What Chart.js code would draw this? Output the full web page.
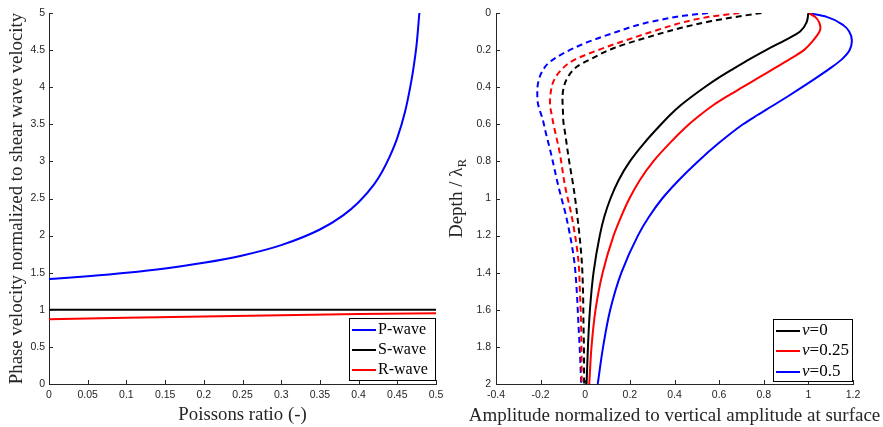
<!DOCTYPE html>
<html>
<head>
<meta charset="utf-8">
<script src="https://cdn.jsdelivr.net/npm/chart.js@4"></script>
<style>
html, body { margin: 0; padding: 0; background: #fff; }
#wrap { position: relative; width: 883px; height: 427px; overflow: hidden; }
canvas { position: absolute; top: 0; }
</style>
</head>
<body>
<div id="wrap">
  <canvas id="velChart" width="449" height="427" style="left:0"></canvas>
  <canvas id="ampChart" width="438" height="427" style="left:445px"></canvas>
</div>
<script>
// Panel gauche : vitesses normalisées en fonction du coefficient de Poisson
const nuP = [0, 0.02, 0.05, 0.1, 0.15, 0.2, 0.25, 0.3, 0.35, 0.38, 0.4, 0.42, 0.43, 0.44, 0.45, 0.46, 0.465, 0.47, 0.475, 0.4785];
const vpRatio = [1.414, 1.429, 1.453, 1.5, 1.558, 1.633, 1.732, 1.871, 2.082, 2.273, 2.449, 2.69, 2.854, 3.06, 3.317, 3.67, 3.91, 4.2, 4.58, 5.0];
const nuS = [0, 0.5];
const vsRatio = [1, 1];
const nuR = [0, 0.1, 0.2, 0.3, 0.4, 0.5];
const vrRatio = [0.874, 0.893, 0.911, 0.927, 0.942, 0.955];
const velLabels = ['P-wave', 'S-wave', 'R-wave'];

// Panel droit : amplitudes (trait plein = vertical, tirets = horizontal)
const depthV0 = [0, 0.05, 0.1, 0.15, 0.2, 0.25, 0.3, 0.35, 0.4, 0.45, 0.5, 0.55, 0.6, 0.7, 0.8, 0.9, 1.0, 1.1, 1.2, 1.4, 1.6, 1.8, 2.0];
const ampV0 = [1.0, 0.992, 0.963, 0.89, 0.81, 0.735, 0.665, 0.597, 0.535, 0.478, 0.425, 0.38, 0.34, 0.265, 0.2, 0.15, 0.113, 0.085, 0.065, 0.037, 0.021, 0.012, 0.006];
const depthV025 = [0, 0.02, 0.05, 0.08, 0.1, 0.15, 0.2, 0.25, 0.3, 0.35, 0.4, 0.45, 0.5, 0.55, 0.6, 0.7, 0.8, 0.9, 1.0, 1.1, 1.2, 1.4, 1.6, 1.8, 2.0];
const ampV025 = [1.0, 1.03, 1.048, 1.054, 1.05, 1.02, 0.98, 0.915, 0.845, 0.775, 0.705, 0.635, 0.57, 0.515, 0.465, 0.38, 0.305, 0.245, 0.198, 0.16, 0.127, 0.078, 0.046, 0.028, 0.018];
const depthV05 = [0, 0.021, 0.066, 0.1, 0.15, 0.2, 0.25, 0.3, 0.35, 0.4, 0.45, 0.5, 0.55, 0.6, 0.7, 0.8, 0.9, 1.0, 1.1, 1.2, 1.4, 1.6, 1.8, 2.0];
const ampV05 = [1.0, 1.082, 1.157, 1.183, 1.195, 1.185, 1.15, 1.095, 1.035, 0.972, 0.907, 0.84, 0.772, 0.707, 0.6, 0.505, 0.42, 0.345, 0.285, 0.236, 0.162, 0.112, 0.08, 0.056];
const depthH0 = [0, 0.02, 0.045, 0.08, 0.12, 0.19, 0.245, 0.29, 0.35, 0.41, 0.47, 0.53, 0.586, 0.65, 0.8, 0.936, 1.1, 1.331, 1.5, 1.666, 1.8, 2.0];
const ampH0 = [0.79, 0.68, 0.56, 0.43, 0.31, 0.126, 0.03, -0.038, -0.08, -0.098, -0.102, -0.1, -0.098, -0.09, -0.072, -0.053, -0.035, -0.016, -0.01, -0.008, -0.006, -0.005];
const depthH025 = [0, 0.02, 0.05, 0.093, 0.14, 0.183, 0.255, 0.31, 0.37, 0.43, 0.48, 0.577, 0.64, 0.75, 0.936, 1.1, 1.331, 1.5, 1.666, 1.8, 2.0];
const ampH025 = [0.69, 0.56, 0.44, 0.32, 0.2, 0.096, -0.053, -0.11, -0.143, -0.155, -0.158, -0.146, -0.135, -0.115, -0.09, -0.06, -0.031, -0.024, -0.019, -0.017, -0.016];
const depthH05 = [0, 0.015, 0.034, 0.054, 0.11, 0.174, 0.263, 0.32, 0.37, 0.42, 0.48, 0.577, 0.64, 0.75, 0.936, 1.1, 1.331, 1.5, 1.666, 1.8, 2.0];
const ampH05 = [0.55, 0.44, 0.35, 0.27, 0.12, -0.023, -0.158, -0.195, -0.21, -0.215, -0.213, -0.19, -0.178, -0.155, -0.12, -0.085, -0.05, -0.038, -0.031, -0.025, -0.018];
const nuLabels = ['0', '0.25', '0.5'];

const axisColor = '#262626';
const serif = 'Liberation Serif, Times New Roman, serif';
const sans = 'Liberation Sans, Arial, sans-serif';

const pts = (xs, ys) => xs.map((x, i) => ({ x: x, y: ys[i] }));
const fmt = v => String(+v.toFixed(2));

// Graduations vers l'intérieur (style MATLAB)
const inwardTicks = {
    id: 'inwardTicks',
    afterDatasetsDraw(chart) {
        const ctx = chart.ctx, a = chart.chartArea;
        const xs = chart.scales.x, ys = chart.scales.y;
        ctx.save();
        ctx.strokeStyle = axisColor;
        ctx.lineWidth = 1;
        ctx.beginPath();
        xs.ticks.forEach(t => {
            const px = Math.round(xs.getPixelForValue(t.value)) + 0.5;
            ctx.moveTo(px, a.bottom); ctx.lineTo(px, a.bottom - 4);
        });
        ys.ticks.forEach(t => {
            const py = Math.round(ys.getPixelForValue(t.value)) + 0.5;
            ctx.moveTo(a.left, py); ctx.lineTo(a.left + 4, py);
        });
        ctx.stroke();
        ctx.restore();
    }
};

// Légende encadrée dans la zone de tracé
function boxLegend(id, box, items, size) {
    return {
        id: id,
        afterDraw(chart) {
            const ctx = chart.ctx;
            ctx.save();
            ctx.fillStyle = '#fff';
            ctx.fillRect(box.x, box.y, box.w, box.h);
            ctx.strokeStyle = '#000';
            ctx.lineWidth = 1;
            ctx.strokeRect(box.x + 0.5, box.y + 0.5, box.w - 1, box.h - 1);
            items.forEach((it, i) => {
                const y = box.rows[i];
                ctx.strokeStyle = it.color;
                ctx.lineWidth = 2;
                ctx.beginPath();
                ctx.moveTo(box.x + 3, y); ctx.lineTo(box.x + 27, y);
                ctx.stroke();
                let tx = box.x + 29;
                ctx.fillStyle = '#000';
                ctx.textBaseline = 'middle';
                it.parts.forEach(p => {
                    ctx.font = (p.italic ? 'italic ' : '') + size + 'px ' + serif;
                    ctx.fillText(p.t, tx, y);
                    tx += ctx.measureText(p.t).width;
                });
            });
            ctx.restore();
        }
    };
}

// Titres du panneau droit (plus large que la zone de tracé, et λ avec indice R)
const ampTitles = {
    id: 'ampTitles',
    afterDraw(chart) {
        const ctx = chart.ctx, a = chart.chartArea;
        ctx.save();
        ctx.fillStyle = axisColor;
        ctx.textBaseline = 'middle';
        ctx.textAlign = 'center';
        ctx.font = '19px ' + serif;
        ctx.fillText('Amplitude normalized to vertical amplitude at surface', (a.left + a.right) / 2, 416);

        ctx.textAlign = 'left';
        ctx.translate(12, (a.top + a.bottom) / 2);
        ctx.rotate(-Math.PI / 2);
        const main = 'Depth / λ';
        const w1 = ctx.measureText(main).width;
        ctx.font = '13px ' + serif;
        const w2 = ctx.measureText('R').width;
        const x0 = -(w1 + w2) / 2;
        ctx.font = '19px ' + serif;
        ctx.fillText(main, x0, 0);
        ctx.font = '13px ' + serif;
        ctx.fillText('R', x0 + w1, 6);
        ctx.restore();
    }
};

function lineSet(label, data, color, dashed, extra) {
    return Object.assign({
        label: label,
        data: data,
        borderColor: color,
        backgroundColor: color,
        borderWidth: 2,
        borderDash: dashed ? [6, 4] : [],
        pointRadius: 0,
        showLine: true,
        fill: false,
        tension: 0.3
    }, extra || {});
}

// Profils en profondeur : interpolation monotone le long de l'axe des profondeurs
const depthCurve = { indexAxis: 'y', cubicInterpolationMode: 'monotone' };

function axisTicks(pad) {
    return { color: axisColor, font: { family: sans, size: 10.5 }, padding: pad, callback: fmt };
}

new Chart(document.getElementById('velChart'), {
    type: 'scatter',
    data: {
        datasets: [
            lineSet(velLabels[0], pts(nuP, vpRatio), '#0000ff', false, { cubicInterpolationMode: 'monotone' }),
            lineSet(velLabels[1], pts(nuS, vsRatio), '#000000', false, { tension: 0 }),
            lineSet(velLabels[2], pts(nuR, vrRatio), '#ff0000', false, { tension: 0 })
        ]
    },
    options: {
        responsive: false,
        animation: false,
        layout: { padding: { top: 13, right: 13, left: 0, bottom: 0 } },
        plugins: { legend: { display: false }, tooltip: { enabled: false } },
        scales: {
            x: {
                type: 'linear', min: 0, max: 0.5,
                ticks: Object.assign(axisTicks(5), { stepSize: 0.05, maxRotation: 0, autoSkip: false }),
                grid: { display: false, drawTicks: false },
                border: { color: axisColor, width: 1 },
                title: { display: true, text: 'Poissons ratio (-)', color: axisColor, font: { family: serif, size: 18.8 }, padding: { top: 0, bottom: 1 } },
                afterFit: s => { s.height = 43; }
            },
            y: {
                type: 'linear', min: 0, max: 5,
                ticks: Object.assign(axisTicks(4), { stepSize: 0.5 }),
                grid: { display: false, drawTicks: false },
                border: { color: axisColor, width: 1 },
                title: { display: true, text: 'Phase velocity normalized to shear wave velocity', color: axisColor, font: { family: serif, size: 18.8 }, padding: { top: 6, bottom: 0 } },
                afterFit: s => { s.width = 49; }
            }
        }
    },
    plugins: [inwardTicks, boxLegend('velLegend', { x: 349, y: 318, w: 87, h: 63, rows: [330, 350, 370] }, [
        { color: '#0000ff', parts: [{ t: velLabels[0] }] },
        { color: '#000000', parts: [{ t: velLabels[1] }] },
        { color: '#ff0000', parts: [{ t: velLabels[2] }] }
    ], 16)]
});

new Chart(document.getElementById('ampChart'), {
    type: 'scatter',
    data: {
        datasets: [
            lineSet('v0', pts(ampV0, depthV0), '#000000', false, depthCurve),
            lineSet('v025', pts(ampV025, depthV025), '#ff0000', false, depthCurve),
            lineSet('v05', pts(ampV05, depthV05), '#0000ff', false, depthCurve),
            lineSet('h0', pts(ampH0, depthH0), '#000000', true, depthCurve),
            lineSet('h025', pts(ampH025, depthH025), '#ff0000', true, depthCurve),
            lineSet('h05', pts(ampH05, depthH05), '#0000ff', true, depthCurve)
        ]
    },
    options: {
        responsive: false,
        animation: false,
        layout: { padding: { top: 13, right: 30, left: 0, bottom: 0 } },
        plugins: { legend: { display: false }, tooltip: { enabled: false } },
        scales: {
            x: {
                type: 'linear', min: -0.4, max: 1.2,
                ticks: Object.assign(axisTicks(5), { stepSize: 0.2, maxRotation: 0, autoSkip: false }),
                grid: { display: false, drawTicks: false },
                border: { color: axisColor, width: 1 },
                afterFit: s => { s.height = 43; }
            },
            y: {
                type: 'linear', min: 0, max: 2, reverse: true,
                ticks: Object.assign(axisTicks(5), { stepSize: 0.2 }),
                grid: { display: false, drawTicks: false },
                border: { color: axisColor, width: 1 },
                afterFit: s => { s.width = 51; }
            }
        }
    },
    plugins: [inwardTicks, ampTitles, boxLegend('ampLegend', { x: 328, y: 319, w: 80, h: 63, rows: [331, 351, 372] }, [
        { color: '#000000', parts: [{ t: 'ν', italic: true }, { t: '=' + nuLabels[0] }] },
        { color: '#ff0000', parts: [{ t: 'ν', italic: true }, { t: '=' + nuLabels[1] }] },
        { color: '#0000ff', parts: [{ t: 'ν', italic: true }, { t: '=' + nuLabels[2] }] }
    ], 17)]
});
</script>
</body>
</html>
